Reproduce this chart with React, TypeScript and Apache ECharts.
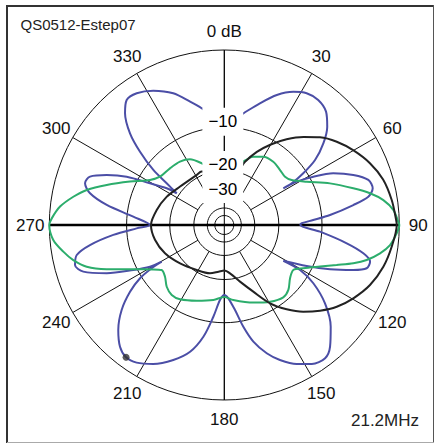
import React, { useEffect, useRef } from "react";
import * as echarts from "echarts";

const TITLE = "QS0512-Estep07";
const FREQUENCY = "21.2MHz";
const ANGLE_TICKS = [0, 30, 60, 90, 120, 150, 180, 210, 240, 270, 300, 330];
const ANGLE_LABELS = ["0 dB", "30", "60", "90", "120", "150", "180", "210", "240", "270", "300", "330"];
const RING_DB = [0, -10, -20, -30, -40, -50];
const RING_LABEL_DB = [-10, -20, -30];
const SPOKE_INNER_DB = -30;
const AXIS_LINES = [[0, 180], [90, 270]];

// [azimuth deg, dB]
const BLUE = [
  [0, -9.6], [9.7, -7.46], [16.3, -5.53], [22, -3.8], [27.4, -2.64], [32, -2.04], [36.9, -1.93], [41.9, -2.38],
  [46.3, -3.54], [50.5, -5.32], [54.4, -7.72], [56.8, -10.6], [58.3, -13.59], [58.1, -15.85], [59.1, -12.51],
  [61.5, -9.38], [64.6, -6.39], [68.8, -4.03], [72.6, -2.54], [76.1, -2.32], [78.9, -3.02], [81.2, -5.03],
  [84.6, -8.57], [86.8, -11.59], [88.7, -13.99], [90, -14.31], [94, -10.32], [98.5, -5.94], [101.5, -3.6],
  [104.1, -2.61], [106.9, -2.78], [109.2, -4.25], [112.7, -7.27], [116.5, -11.03], [121.2, -15.97], [120.7, -11.78],
  [123.2, -8.54], [127.9, -5.42], [133.7, -2.97], [139, -1.41], [142.9, -0.79], [147.8, -1.09], [152.5, -1.9],
  [157.6, -3.11], [161.7, -4.44], [166, -6.45], [169.4, -9.01], [172.8, -12.25], [176.9, -14.91], [180, -15.73],
  [183.3, -14.52], [186.8, -10.96], [190.6, -7.4], [195.1, -4.93], [200.7, -3.31], [207.1, -1.96], [212.5, -1.2],
  [216.6, -1.03], [220.6, -1.51], [225.3, -2.74], [230.4, -4.68], [234.7, -7.13], [237.7, -9.66], [239.2, -12.49],
  [239.6, -15.09], [240.7, -12.35], [243.7, -9.35], [247.7, -5.49], [251.7, -2.82], [255, -2.13], [258.5, -2.58],
  [261.5, -4.35], [264.9, -7.75], [267.8, -11.86], [270, -14.71], [275.2, -11.15], [279.7, -6.58], [283.3, -4.08],
  [286.7, -3.18], [289.8, -3.5], [293, -5.4], [296.3, -8.14], [299.3, -12.35], [302.5, -16.15], [303.7, -19.19],
  [305.9, -15.45], [307.8, -11.45], [311, -7.71], [314.2, -4.9], [318.4, -2.7], [322, -1.69], [326.4, -1.73],
  [332.1, -2.43], [338.8, -3.68], [344.5, -5.37], [349, -6.63], [360, -9.6],
];

const GREEN = [
  [0, -22.2], [8, -20.2], [16.7, -16.71], [23, -14.72], [29.7, -13.72], [37.7, -13.43], [45.4, -13.8], [51.5, -13.96],
  [56.3, -13.22], [62.3, -10.83], [68.5, -7.42], [74.1, -4.57], [77.7, -2.75], [81.1, -1.43], [84.9, -0.53],
  [88.9, -0.1], [90, 0], [92.8, -0.24], [96.9, -0.81], [100.3, -1.72], [103.8, -3.04], [106.5, -4.5], [109.6, -6.58],
  [113.5, -8.87], [118.7, -11.39], [123.1, -12.93], [129, -12.47], [135.4, -11.18], [140.8, -10.79], [149.2, -11.54],
  [159.5, -12.83], [173.2, -14.42], [180, -15.24], [188.3, -14.36], [200, -13.3], [210.8, -12.09], [216.9, -11.88],
  [223, -12.51], [228.9, -13.72], [234.3, -14.06], [238, -12.65], [244, -9.4], [249.4, -5.68], [253.1, -3.37],
  [256.9, -2.08], [260.6, -1.2], [265, -0.33], [270, 0], [272.2, -0.23], [276.4, -0.98], [280.6, -2.24],
  [284.3, -3.59], [288.8, -5.89], [294.7, -8.96], [301.2, -12.01], [306.9, -13.35], [316.2, -13.76], [325, -14.02],
  [332.4, -14.74], [339.9, -16.81], [352, -20.2], [360, -22.2],
];

const BLACK = [
  [0, -21.3], [10, -21.0], [15, -19.5], [18, -16.7], [24, -13.43], [30, -10.85], [36, -8.6], [42, -6.69],
  [47.5, -5.13], [53.5, -3.84], [60, -2.74], [67, -1.73], [74, -0.99], [81.5, -0.57], [88, -0.32], [90, -0.25],
  [97.4, -0.62], [104.7, -1.07], [112.4, -1.8], [119.6, -2.83], [126, -3.95], [131.8, -5.3], [137.7, -6.87],
  [143.5, -8.79], [149.7, -11.28], [156.5, -15.08], [164.5, -18.72], [173, -21.85], [180, -23.12], [187, -22.56],
  [196.5, -21.37], [211.5, -20.56], [229, -18.78], [244.5, -16.81], [258, -15.51], [270, -14.93], [282.5, -15.92],
  [296, -17.21], [311, -18.78], [331, -19.22], [337, -18.95], [350, -20.4], [360, -21.3],
];

const MARKER = [[216.6, -1.03]];

const CX = 224.3;
const CY = 225;
const R = 175;
const LABEL_R = 194;
const RMAX = LABEL_R / R;
// ARRL log scale: radius factor 0.89 per 2 dB
const dbToRadius = (db: number) => Math.pow(0.89, -db / 2);
const FONT = "Arial, 'Liberation Sans', Helvetica, sans-serif";

export default function App() {
  const ref = useRef<HTMLDivElement>(null);

  useEffect(() => {
    const chart = echarts.init(ref.current as HTMLDivElement, null, { renderer: "svg" });

    const polar: any[] = [{ center: [CX, CY], radius: LABEL_R }];
    const angleAxis: any[] = [
      { polarIndex: 0, type: "value", min: 0, max: 360, startAngle: 90, clockwise: true, show: false },
    ];
    const radiusAxis: any[] = [{ polarIndex: 0, type: "value", min: 0, max: RMAX, show: false }];

    polar.push({ center: [CX, CY], radius: [R * dbToRadius(SPOKE_INNER_DB), R] });
    angleAxis.push({
      polarIndex: 1, type: "value", min: 0, max: 360, interval: 30, startAngle: 90, clockwise: true,
      axisLine: { show: false }, axisTick: { show: false }, axisLabel: { show: false },
      splitLine: { show: true, lineStyle: { color: "#111", width: 1 } },
    });
    radiusAxis.push({ polarIndex: 1, type: "value", min: 0, max: 1, show: false });

    RING_DB.forEach((db) => {
      const idx = polar.length;
      polar.push({ center: [CX, CY], radius: R * dbToRadius(db) });
      angleAxis.push({
        polarIndex: idx, type: "value", min: 0, max: 360, startAngle: 90, clockwise: true,
        axisLine: { show: true, lineStyle: { color: "#111", width: 1 } },
        axisTick: { show: false }, axisLabel: { show: false }, splitLine: { show: false },
      });
      radiusAxis.push({ polarIndex: idx, type: "value", min: 0, max: 1, show: false });
    });

    const curve = (data: number[][], color: string, width: number, z: number) => ({
      type: "line", coordinateSystem: "polar", polarIndex: 0, symbol: "none", smooth: 0.3, silent: true, z,
      data: data.map(([a, db]) => [dbToRadius(db), a]),
      lineStyle: { color, width },
    });

    const textLabel = {
      show: true, position: "inside", fontSize: 17, fontFamily: FONT, fontWeight: "normal", color: "#000",
      opacity: 1, textBorderWidth: 0, textBorderColor: "transparent", textShadowBlur: 0,
    };

    const series: any[] = [
      ...AXIS_LINES.map((pair, i) => ({
        type: "line", coordinateSystem: "polar", polarIndex: 0, symbol: "none", silent: true, z: 1,
        data: pair.map((a) => [1, a]),
        lineStyle: { color: "#000", width: i === 1 ? 2.5 : 1 },
      })),
      curve(BLUE, "#4b4ea6", 2, 2),
      curve(GREEN, "#2cad6c", 2, 3),
      curve(BLACK, "#222222", 2, 4),
      {
        type: "scatter", coordinateSystem: "polar", polarIndex: 0, silent: true, z: 6,
        symbol: "circle", symbolSize: 7, itemStyle: { color: "#333" },
        data: MARKER.map(([a, db]) => [dbToRadius(db), a]),
      },
      {
        type: "scatter", coordinateSystem: "polar", polarIndex: 0, silent: true, z: 7,
        symbolSize: 1, itemStyle: { color: "#fff", opacity: 1 },
        data: ANGLE_TICKS.map((a) => [RMAX, a]),
        label: { ...textLabel, color: "#111", formatter: (p: any) => ANGLE_LABELS[p.dataIndex] },
      },
      {
        type: "scatter", coordinateSystem: "polar", polarIndex: 0, silent: true, z: 10,
        symbolSize: 1, itemStyle: { color: "#fff", opacity: 1 },
        data: RING_LABEL_DB.map((db) => [dbToRadius(db), 0]),
        label: {
          ...textLabel,
          backgroundColor: "#fff", padding: [4, 6], lineHeight: 20, offset: [-1.5, -5.5],
          formatter: (p: any) => "\u2212" + Math.abs(RING_LABEL_DB[p.dataIndex]),
        },
      },
    ];

    chart.setOption({
      animation: false,
      backgroundColor: "#fff",
      polar,
      angleAxis,
      radiusAxis,
      series,
      graphic: [
        { type: "line", shape: { x1: 6, y1: 6, x2: 434, y2: 6 }, style: { stroke: "#333", lineWidth: 2 }, silent: true },
        { type: "line", shape: { x1: 7, y1: 5, x2: 7, y2: 443 }, style: { stroke: "#333", lineWidth: 2 }, silent: true },
        { type: "line", shape: { x1: 433.5, y1: 5, x2: 433.5, y2: 443 }, style: { stroke: "#555", lineWidth: 1 }, silent: true },
        { type: "line", shape: { x1: 7, y1: 442.5, x2: 434, y2: 442.5 }, style: { stroke: "#aaa", lineWidth: 1 }, silent: true },
        {
          type: "text", x: 20.5, y: 24, silent: true,
          style: { text: TITLE, fontSize: 15, fontFamily: FONT, fill: "#222", align: "left", verticalAlign: "middle" },
        },
        {
          type: "text", x: 419, y: 420, silent: true,
          style: { text: FREQUENCY, fontSize: 17, fontFamily: FONT, fill: "#222", align: "right", verticalAlign: "middle" },
        },
      ],
    });

    return () => chart.dispose();
  }, []);

  return (
    <div
      ref={ref}
      style={{ position: "absolute", left: 0, top: 0, width: 434, height: 443, background: "#fff" }}
    />
  );
}
